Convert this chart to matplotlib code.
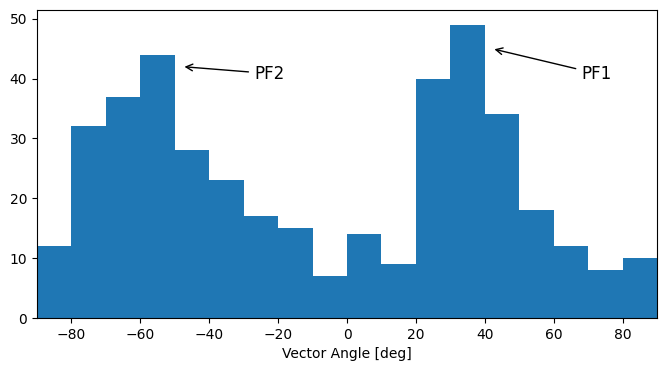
import matplotlib
matplotlib.use("Agg")
import matplotlib.pyplot as plt
import numpy as np

bin_edges = list(range(-90, 91, 10))
counts = [12, 32, 37, 44, 28, 23, 17, 15, 7, 14, 9, 40, 49, 34, 18, 12, 8, 10]

fig = plt.figure(figsize=(6.67, 3.71), dpi=100)
ax = fig.add_axes([37/667, 1-318/371, 620/667, 308/371])
centers = np.array(bin_edges[:-1]) + 5
ax.hist(centers, bins=bin_edges, weights=counts, color="#1f77b4")
ax.set_xlim(-90, 90)
ax.set_ylim(0, 51.45)
ax.set_xlabel("Vector Angle [deg]")
ax.annotate("PF2", xy=(-48, 42), xytext=(-27, 40), fontsize=12,
            arrowprops=dict(arrowstyle="->", color="black"))
ax.annotate("PF1", xy=(42, 45), xytext=(68, 40), fontsize=12,
            arrowprops=dict(arrowstyle="->", color="black"))
fig.savefig("out.png", dpi=100)
